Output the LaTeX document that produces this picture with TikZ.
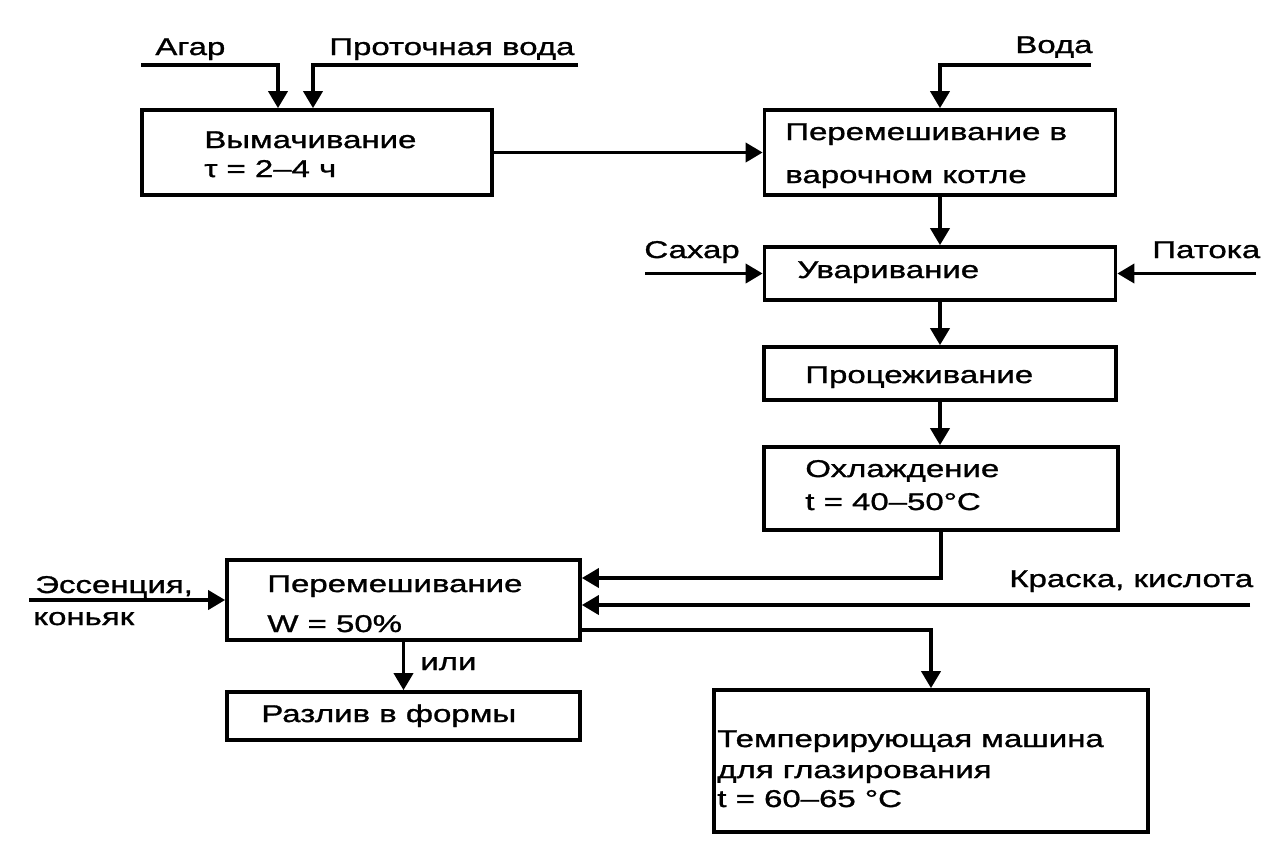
\documentclass[tikz,border=0pt]{standalone}
\usepackage{fontspec}
\setmainfont{Liberation Sans}[FakeStretch=1.36,FakeBold=1.2]
\usetikzlibrary{arrows.meta}
\begin{document}
\begin{tikzpicture}[x=0.02cm,y=-0.02cm,
  box/.style={draw,line width=2.1pt,minimum width=#1*0.02cm,inner sep=0pt},
  bh/.style={minimum height=#1*0.02cm},
  txt/.style={anchor=base west,inner sep=0pt,font=\fontsize{13.8pt}{16pt}\selectfont},
  arr/.style={line width=2.1pt,-{Triangle[length=0.34cm,width=0.38cm]}}]
\useasboundingbox (0,0) rectangle (1282,867);
% boxes
\node[box=350,bh=85] (b1) at (317,152.5) {};
\node[box=351,bh=85] (b2) at (940,152.5) {};
\node[box=351,bh=53] (b3) at (940,273.5) {};
\node[box=352,bh=53] (b4) at (940,373.5) {};
\node[box=354,bh=83] (b5) at (941,488.5) {};
\node[box=353,bh=80] (b6) at (403.5,600) {};
\node[box=353,bh=48] (b7) at (403.5,716) {};
\node[box=434,bh=142] (b8) at (931,761) {};
% texts
\node[txt] (tAgar) at (155,55) {Агар};
\node[txt] (tVoda1) at (329,55) {Проточная вода};
\node[txt] (tVoda2) at (1015,53) {Вода};
\node[txt] (t1a) at (204,148) {Вымачивание};
\node[txt] (t1b) at (204,177) {τ = 2–4 ч};
\node[txt] (t2a) at (785,140) {Перемешивание в};
\node[txt] (t2b) at (785,183) {варочном котле};
\node[txt] (tSah) at (644,258) {Сахар};
\node[txt] (tPat) at (1152,258) {Патока};
\node[txt] (t3) at (797,278) {Уваривание};
\node[txt] (t4) at (805,383) {Процеживание};
\node[txt] (t5a) at (805,477) {Охлаждение};
\node[txt] (t5b) at (805,510) {t = 40–50°C};
\node[txt] (tEss) at (35,593) {Эссенция,};
\node[txt] (tKon) at (33,625) {коньяк};
\node[txt] (tKr) at (1009,587) {Краска, кислота};
\node[txt] (t6a) at (267,592) {Перемешивание};
\node[txt] (t6b) at (267,632) {W = 50\%};
\node[txt] (tIli) at (420,670) {или};
\node[txt] (t7) at (261,722) {Разлив в формы};
\node[txt] (t8a) at (717,747) {Темперирующая машина};
\node[txt] (t8b) at (717,778) {для глазирования};
\node[txt] (t8c) at (717,807) {t = 60–65 °C};
% coordinates
\coordinate (aS) at (141,65);
\coordinate (aC) at (278,65);
\coordinate (pS) at (578,65);
\coordinate (pC) at (313,65);
\coordinate (vS) at (1091,65);
\coordinate (vC) at (940,65);
\coordinate (sS) at (645,273.5);
\coordinate (paS) at (1256,273.5);
\coordinate (c5) at (941,578);
\coordinate (kS) at (1250,605);
\coordinate (eS) at (29,600);
\coordinate (c8a) at (580,630);
\coordinate (c8) at (931,630);
% connectors
\draw[arr] (aS) -- (aC) -- (aC |- b1.north);
\draw[arr] (pS) -- (pC) -- (pC |- b1.north);
\draw[arr] (b1.east) -- (b2.west);
\draw[arr] (vS) -- (vC) -- (b2.north);
\draw[arr] (b2.south) -- (b3.north);
\draw[arr] (sS) -- (b3.west);
\draw[arr] (paS) -- (b3.east);
\draw[arr] (b3.south) -- (b4.north);
\draw[arr] (b4.south) -- (b4.south |- b5.north);
\draw[arr] (b5.south) -- (c5) -- (c5 -| b6.east);
\draw[arr] (kS) -- (kS -| b6.east);
\draw[arr] (eS) -- (b6.west);
\draw[arr] (c8a) -- (c8) -- (b8.north);
\draw[arr] (b6.south) -- (b7.north);
\end{tikzpicture}
\end{document}
